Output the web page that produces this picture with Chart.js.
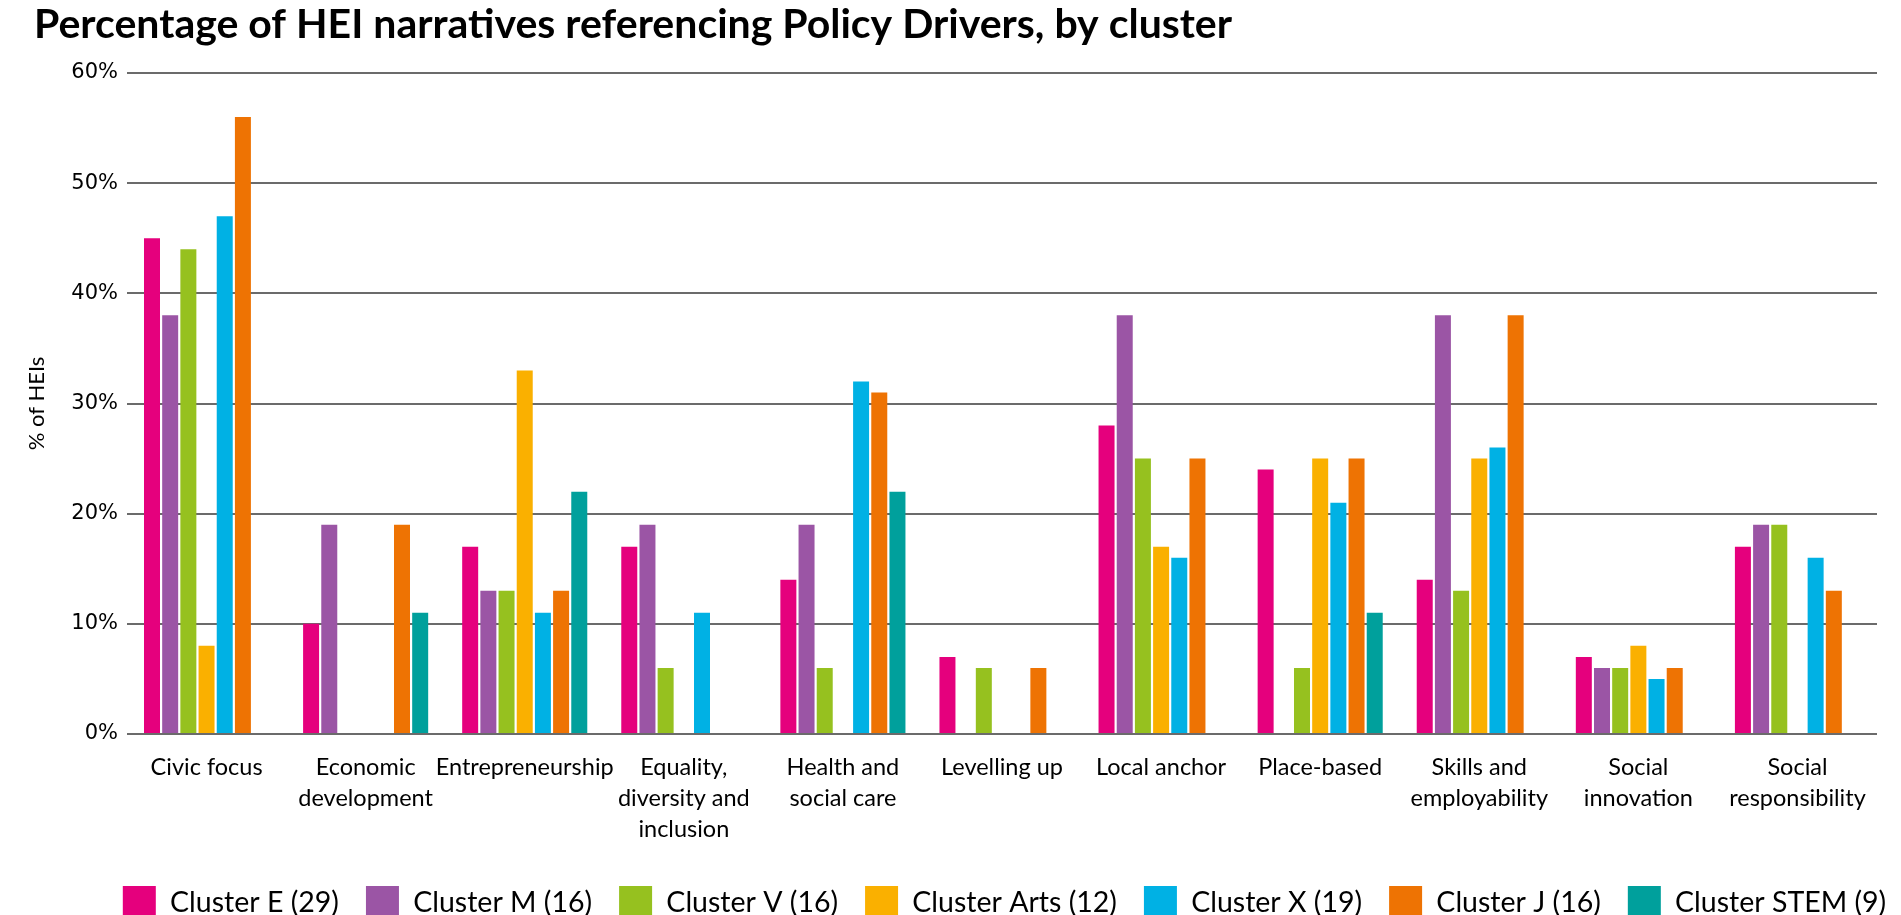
<!DOCTYPE html>
<html>
<head>
<meta charset="utf-8">
<script src="https://cdn.jsdelivr.net/npm/chart.js@4"></script>
<style>
  html, body { margin: 0; padding: 0; background: #ffffff; }
  #wrap { width: 1901px; height: 915px; position: relative; }
</style>
</head>
<body>
<div id="wrap"><canvas id="c" width="1901" height="915"></canvas></div>
<script>
const categories = [
  "Civic focus",
  ["Economic", "development"],
  "Entrepreneurship",
  ["Equality,", "diversity and", "inclusion"],
  ["Health and", "social care"],
  "Levelling up",
  "Local anchor",
  "Place-based",
  ["Skills and", "employability"],
  ["Social", "innovation"],
  ["Social", "responsibility"]
];
const seriesNames = ["Cluster E (29)", "Cluster M (16)", "Cluster V (16)", "Cluster Arts (12)", "Cluster X (19)", "Cluster J (16)", "Cluster STEM (9)"];
const clusterE    = [45, 10, 17, 17, 14, 7, 28, 24, 14, 7, 17];
const clusterM    = [38, 19, 13, 19, 19, 0, 38, 0, 38, 6, 19];
const clusterV    = [44, 0, 13, 6, 6, 6, 25, 6, 13, 6, 19];
const clusterArts = [8, 0, 33, 0, 0, 0, 17, 25, 25, 8, 0];
const clusterX    = [47, 0, 11, 11, 32, 0, 16, 21, 26, 5, 16];
const clusterJ    = [56, 19, 13, 0, 31, 6, 25, 25, 38, 6, 13];
const clusterSTEM = [0, 11, 22, 0, 22, 0, 0, 11, 0, 0, 0];
const seriesColors = ["#E5007D", "#9B55A5", "#96C11F", "#FAB000", "#00B1E4", "#EE7303", "#00A09C"];
const yTickMin = 0, yTickMax = 60, yTickStep = 10;

const seriesValues = [clusterE, clusterM, clusterV, clusterArts, clusterX, clusterJ, clusterSTEM];

Chart.defaults.font.family = "Lato, 'Open Sans', sans-serif";
Chart.defaults.color = "#000000";

const legendShift = {
  id: 'legendShift',
  afterLayout(chart) {
    const lg = chart.legend;
    if (lg) { lg.left += 49; lg.right += 49; lg.top += 14; lg.bottom += 14; }
  }
};

new Chart(document.getElementById('c'), {
  type: 'bar',
  data: {
    labels: categories,
    datasets: seriesValues.map((vals, i) => ({
      label: seriesNames[i],
      data: vals,
      backgroundColor: seriesColors[i],
      borderWidth: 0,
      categoryPercentage: 0.8,
      barPercentage: 0.88
    }))
  },
  options: {
    responsive: false,
    animation: false,
    devicePixelRatio: 1,
    layout: { padding: { left: 34, right: 24, top: 0, bottom: 0 } },
    plugins: {
      title: {
        display: true,
        text: "Percentage of HEI narratives referencing Policy Drivers, by cluster",
        align: 'start',
        color: '#000000',
        font: { size: 41, weight: 'bold', family: "Lato" },
        padding: { top: 0, bottom: 23.8 }
      },
      legend: {
        display: true,
        position: 'bottom',
        align: 'center',
        labels: {
          boxWidth: 33,
          boxHeight: 33,
          padding: 27,
          color: '#000000',
          font: { size: 28.5, family: "Lato" }
        }
      },
      tooltip: { enabled: false }
    },
    scales: {
      x: {
        grid: { display: false, drawTicks: false },
        border: { display: false },
        ticks: {
          autoSkip: false,
          maxRotation: 0,
          minRotation: 0,
          padding: 18,
          color: '#000000',
          font: { size: 23.5, family: "Lato", lineHeight: 1.32 }
        },
        afterFit(scale) { scale.height = 111; }
      },
      y: {
        min: yTickMin,
        max: yTickMax,
        grid: { color: '#6b6b6b', lineWidth: 2, drawTicks: false },
        border: { display: false },
        ticks: {
          stepSize: yTickStep,
          padding: 9,
          color: '#000000',
          font: { size: 21, family: "'DejaVu Sans'" },
          callback: (v) => v + '%'
        },
        title: {
          display: true,
          text: '% of HEIs',
          color: '#000000',
          font: { size: 22, family: "Lato" },
          padding: { top: -10, bottom: 0 }
        },
        afterFit(scale) { scale.width = 93; }
      }
    }
  },
  plugins: [legendShift]
});
</script>
</body>
</html>
